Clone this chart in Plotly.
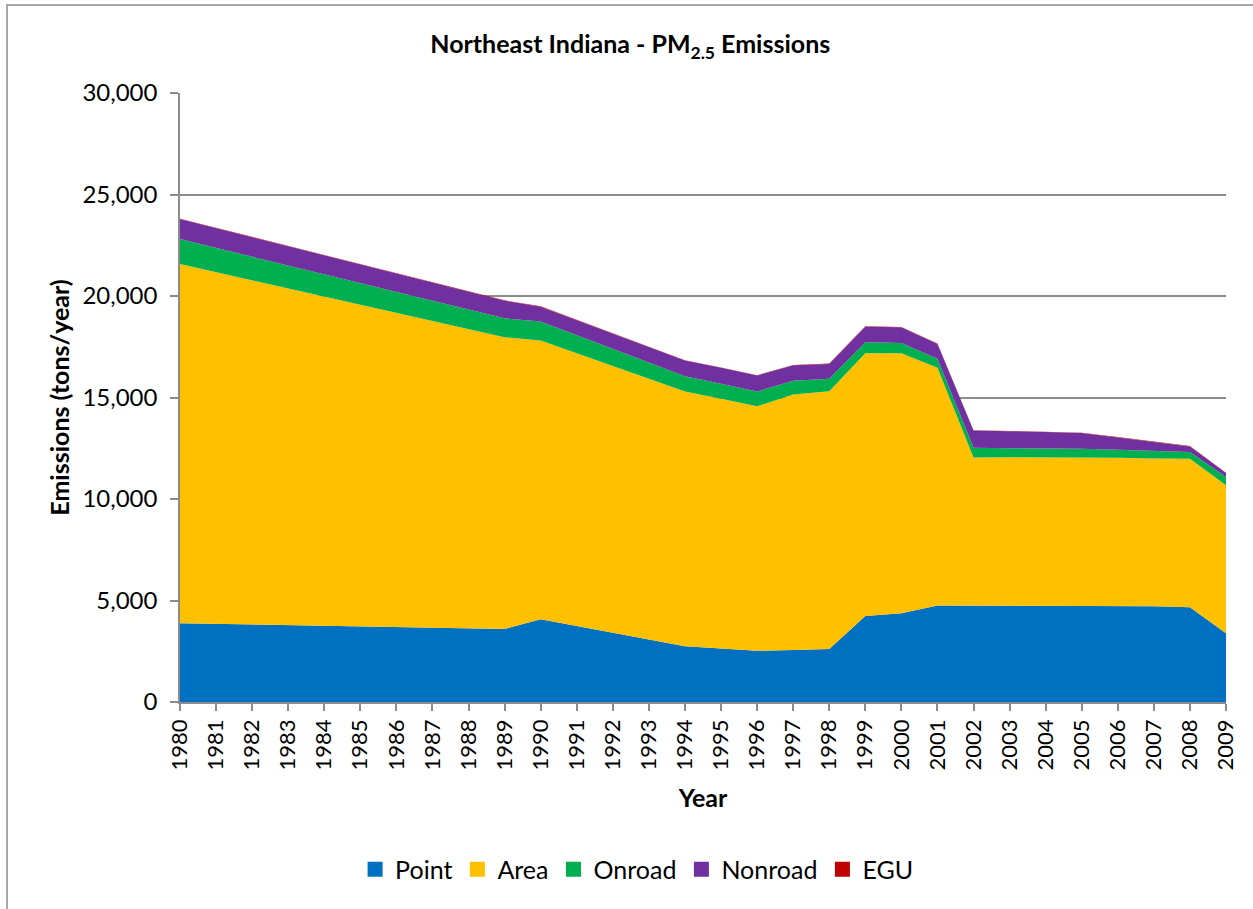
import plotly.graph_objects as go

# PM2.5 emissions by source category, tons/year
years = list(range(1980, 2010))
point = [3880, 3845, 3815, 3785, 3755, 3725, 3690, 3660, 3630, 3600,
         4075, 3745, 3415, 3085, 2750, 2640, 2525, 2560, 2605, 4240,
         4375, 4750, 4750, 4750, 4750, 4750, 4745, 4720, 4670, 3385]
area = [17695, 17325, 16960, 16585, 16210, 15845, 15475, 15100, 14720, 14365,
        13730, 13440, 13140, 12840, 12545, 12295, 12045, 12590, 12705, 12940,
        12805, 11710, 7300, 7305, 7310, 7300, 7290, 7280, 7315, 7290]
onroad = [1230, 1200, 1165, 1135, 1110, 1070, 1045, 1015, 980, 935,
          935, 890, 845, 800, 755, 740, 725, 675, 610, 540,
          510, 445, 475, 450, 435, 430, 395, 380, 325, 410]
nonroad = [985, 970, 950, 940, 920, 910, 890, 880, 865, 870,
           735, 745, 755, 765, 770, 785, 785, 765, 735, 770,
           770, 735, 850, 835, 800, 770, 605, 425, 280, 195]
egu = [15, 15, 15, 15, 15, 15, 15, 15, 15, 15,
       15, 15, 15, 15, 15, 15, 15, 15, 15, 15,
       15, 15, 15, 15, 15, 15, 15, 15, 15, 15]

series = [
    ("Point", point, "#0070C0"),
    ("Area", area, "#FFC000"),
    ("Onroad", onroad, "#00B050"),
    ("Nonroad", nonroad, "#7030A0"),
    ("EGU", egu, "#C00000"),
]

FONT = "Lato, 'Open Sans', sans-serif"
GRID = "#8C8C8C"

fig = go.Figure()
for name, vals, color in series:
    # stacked area, legend handled by the square-marker entries below
    fig.add_trace(go.Scatter(
        x=years, y=vals, name=name, mode="lines",
        stackgroup="emis", line=dict(width=0, color=color),
        fillcolor=color, legendgroup=name, showlegend=False,
    ))
for name, vals, color in series:
    fig.add_trace(go.Scatter(
        x=[None], y=[None], name=name, mode="markers",
        marker=dict(symbol="square", size=15, color=color),
        legendgroup=name, showlegend=True,
    ))

fig.update_layout(
    width=1253, height=909,
    paper_bgcolor="white", plot_bgcolor="white",
    margin=dict(l=180, r=27, t=93, b=207),
    font=dict(family=FONT, color="#000000", size=24),
    title=dict(
        text="<b>Northeast Indiana - PM<sub>2.5</sub> Emissions</b>",
        x=0.503, xanchor="center", y=0.951, yanchor="middle",
        font=dict(size=25, family=FONT),
    ),
    xaxis=dict(
        range=[1980, 2009], tickmode="array", tickvals=years,
        ticktext=[str(y) for y in years], tickangle=-90,
        ticks="outside", ticklen=7, tickcolor=GRID, tickwidth=1.5,
        showline=True, linecolor=GRID, linewidth=1.5,
        showgrid=False, zeroline=False,
        tickfont=dict(size=22),
        title=dict(text="<b>Year</b>", font=dict(size=25), standoff=20),
    ),
    yaxis=dict(
        range=[0, 30000], tickvals=[0, 5000, 10000, 15000, 20000, 25000, 30000],
        tickformat=",d", ticks="outside", ticklen=8, tickcolor=GRID, tickwidth=1.5,
        ticklabelstandoff=8,
        showline=True, linecolor=GRID, linewidth=1.5,
        showgrid=True, gridcolor=GRID, gridwidth=1.5, zeroline=False,
        tickfont=dict(size=24),
        title=dict(text="<b>Emissions (tons/year)</b>", font=dict(size=25), standoff=6),
    ),
    legend=dict(
        orientation="h", x=0.437, xanchor="center", y=-0.275, yanchor="middle",
        font=dict(size=25), itemwidth=30, traceorder="normal",
        bgcolor="rgba(0,0,0,0)",
    ),
    showlegend=True,
)

# Outer chart border
fig.add_shape(
    type="rect", xref="paper", yref="paper",
    x0=(7 - 180) / 1046, x1=1.2, y0=-0.5, y1=(702 - 5) / 609,
    line=dict(color=GRID, width=1.5), fillcolor="rgba(0,0,0,0)", layer="below",
)

fig.write_html("out.html")
